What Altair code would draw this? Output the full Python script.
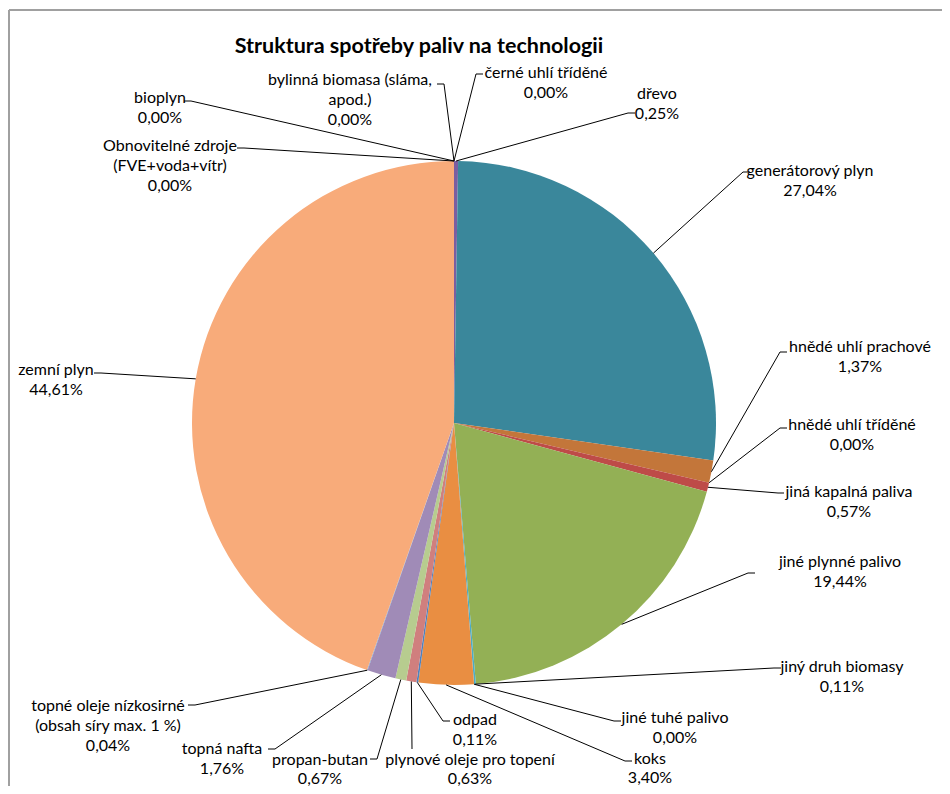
import altair as alt
import pandas as pd
import numpy as np

# ---------------- data ----------------
categories = [
    "Obnovitelné zdroje (FVE+voda+vítr)", "bioplyn", "bylinná biomasa (sláma, apod.)",
    "černé uhlí tříděné", "dřevo", "generátorový plyn", "hnědé uhlí prachové",
    "hnědé uhlí tříděné", "jiná kapalná paliva", "jiné plynné palivo",
    "jiný druh biomasy", "jiné tuhé palivo", "koks", "odpad",
    "plynové oleje pro topení", "propan-butan", "topná nafta",
    "topné oleje nízkosirné (obsah síry max. 1 %)", "zemní plyn",
]
values = [0.00, 0.00, 0.00, 0.00, 0.25, 27.04, 1.37, 0.00, 0.57, 19.44,
          0.11, 0.00, 3.40, 0.11, 0.63, 0.67, 1.76, 0.04, 44.61]
pct_labels = ["0,00%", "0,00%", "0,00%", "0,00%", "0,25%", "27,04%", "1,37%", "0,00%",
              "0,57%", "19,44%", "0,11%", "0,00%", "3,40%", "0,11%", "0,63%",
              "0,67%", "1,76%", "0,04%", "44,61%"]
name_lines = [
    ["Obnovitelné zdroje", "(FVE+voda+vítr)"], ["bioplyn"], ["bylinná biomasa (sláma,", "apod.)"],
    ["černé uhlí tříděné"], ["dřevo"], ["generátorový plyn"], ["hnědé uhlí prachové"],
    ["hnědé uhlí tříděné"], ["jiná kapalná  paliva"], ["jiné plynné palivo"],
    ["jiný druh biomasy"], ["jiné tuhé palivo"], ["koks"], ["odpad"],
    ["plynové oleje pro topení"], ["propan-butan"], ["topná nafta"],
    ["topné oleje nízkosirné", "(obsah síry max. 1 %)"], ["zemní plyn"],
]
colors = ["#4F81BD", "#C0504D", "#9BBB59", "#8064A2", "#7B5EA0", "#3A879B", "#C3763A",
          "#2C4D75", "#BE4B48", "#93B055", "#4BACC6", "#772C2A", "#E98E42", "#4F81BD",
          "#D07F7E", "#B7CC8F", "#A08BB7", "#7F9FCF", "#F8AB7A"]
title_text = "Struktura spotřeby paliv na technologii"

# ---------------- layout (pixel positions, separate from data) ----------------
W, H = 933, 776
X0, Y0 = 9, 10
CX, CY, R = 454, 423, 262
label_cx = [170, 160, 350, 546, 657, 810, 860, 852, 849, 840, 842, 675, 650, 475, 470, 320, 222, 108, 56]
label_y0 = [146, 98, 80, 73, 94, 171, 347, 425, 492, 562, 667, 718, 759, 720, 760, 760, 749, 706, 370]
elbow_x = [244, 191, 444, 476, 628, 743, 780, 780, 778, 748, 774, 614, 625, 443, 412, 377, 275, 195, 101]
elbow_y = [148, 101, 84, 74, 113, 172, 352, 428, 493, 573, 668, 721, 761, 721, 749, 759, 749, 705, 373]
tick_x = [237, 184, 437, 483, 635, 750, 787, 787, 784, 755, 781, 621, 632, 450, 412, 370, 268, 188, 94]
line_gap = 20

# ---------------- tables ----------------
pie_df = pd.DataFrame({"category": categories, "value": values, "order": range(len(values))})

vals = np.array(values)
cum_before = np.concatenate([[0], np.cumsum(vals)[:-1]])
mid = (cum_before + vals / 2) / vals.sum() * 2 * np.pi
px = CX + R * np.sin(mid)
py = CY - R * np.cos(mid)

line_rows = []
for i in range(len(categories)):
    line_rows += [
        {"lid": i, "seq": 0, "x": px[i], "y": py[i]},
        {"lid": i, "seq": 1, "x": elbow_x[i], "y": elbow_y[i]},
        {"lid": i, "seq": 2, "x": tick_x[i], "y": elbow_y[i]},
    ]
line_df = pd.DataFrame(line_rows)

text_rows = []
for i in range(len(categories)):
    lines = name_lines[i] + [pct_labels[i]]
    gap = 19 if label_y0[i] > 750 else line_gap
    for k, t in enumerate(lines):
        text_rows.append({"text": t, "x": label_cx[i], "y": label_y0[i] + k * gap})
text_df = pd.DataFrame(text_rows)

xs = alt.Scale(domain=[X0, X0 + W], nice=False, zero=False)
ys = alt.Scale(domain=[Y0, Y0 + H], nice=False, zero=False, reverse=True)

pie = alt.Chart(pie_df).mark_arc(radius=R).encode(
    theta=alt.Theta("value:Q", stack=True),
    color=alt.Color("category:N", scale=alt.Scale(domain=categories, range=colors), legend=None),
    order=alt.Order("order:Q"),
    x=alt.datum(CX, scale=xs, axis=None),
    y=alt.datum(CY, scale=ys, axis=None),
)

leaders = alt.Chart(line_df).mark_line(color="black", strokeWidth=1).encode(
    x=alt.X("x:Q", scale=xs, axis=None),
    y=alt.Y("y:Q", scale=ys, axis=None),
    detail="lid:N",
    order="seq:Q",
)

labels = alt.Chart(text_df).mark_text(
    font="Lato", fontSize=16, align="center", baseline="middle", color="black"
).encode(
    x=alt.X("x:Q", scale=xs, axis=None),
    y=alt.Y("y:Q", scale=ys, axis=None),
    text="text:N",
)

title = alt.Chart(pd.DataFrame({"t": [title_text], "x": [419], "y": [47]})).mark_text(
    font="Lato", fontSize=21.5, fontWeight="bold", align="center", baseline="middle", color="black"
).encode(
    x=alt.X("x:Q", scale=xs, axis=None),
    y=alt.Y("y:Q", scale=ys, axis=None),
    text="t:N",
)

frame_left = alt.Chart(pd.DataFrame({"a": [0]})).mark_rule(color="#A0A0A0", strokeWidth=2).encode(
    x=alt.value(0), y=alt.value(0), y2=alt.value(H + 20)
)
frame_top = alt.Chart(pd.DataFrame({"a": [0]})).mark_rule(color="#A0A0A0", strokeWidth=2).encode(
    y=alt.value(0), x=alt.value(0), x2=alt.value(W + 20)
)

chart = alt.layer(pie, leaders, labels, title, frame_left, frame_top).properties(
    width=W, height=H,
    padding={"left": 1, "top": 2, "right": 0, "bottom": 0},
    autosize=alt.AutoSizeParams(type="none"),
).configure_view(stroke=None)

chart.save("out.html", embed_options={"renderer": "svg", "actions": False})
